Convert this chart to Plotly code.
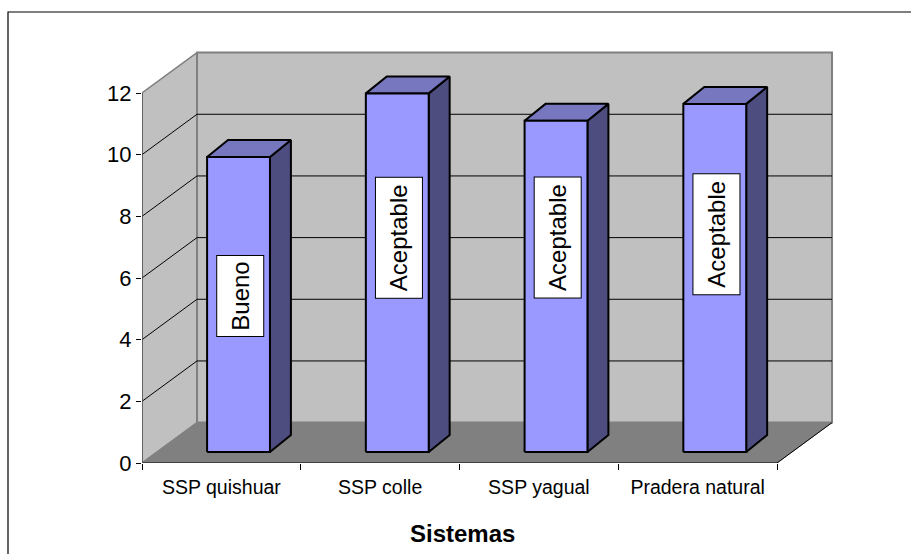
import plotly.graph_objects as go

# Data
categories = ["SSP quishuar", "SSP colle", "SSP yagual", "Pradera natural"]
values = [9.57, 11.63, 10.74, 11.29]
ratings = ["Bueno", "Aceptable", "Aceptable", "Aceptable"]
y_ticks = [0, 2, 4, 6, 8, 10, 12]

# 3-D look (in axis units)
DX, DY = 0.3465, 1.31          # wall depth offset
BAR_X0, BAR_X1 = 0.41, 0.806   # bar front face within each category slot
BAR_BASE = 0.357               # bar base height at its depth
BDX, BDY = 0.132, 0.551        # bar depth offset
LABEL_Y = [5.42, 7.30, 7.30, 7.43]  # rating box anchor heights
BOX_LEN = {"Bueno": 76, "Aceptable": 116}  # rating box length along the text, px

WALL = "#C0C0C0"
FLOOR = "#808080"
EDGE = "#808080"
FRONT = "#9999FF"
TOP = "#7777C0"
SIDE = "#4D4D80"
FONT = "Arial, Liberation Sans, sans-serif"

L, R, T, B = 142, 840, 45, 463
W, H = 911, 554
px_x = 158.75
px_y = 370 / 12
xmax = (R - L) / px_x
ymax = (B - T) / px_y
ntop = max(y_ticks)
ncat = len(categories)

fig = go.Figure()


def poly(xs, ys, fill, line_color, width=1.0):
    fig.add_trace(go.Scatter(
        x=xs + [xs[0]], y=ys + [ys[0]], mode="lines", fill="toself",
        fillcolor=fill, line=dict(color=line_color, width=width),
        hoverinfo="skip", showlegend=False))


def seg(xs, ys, color, width=1.0):
    fig.add_trace(go.Scatter(
        x=xs, y=ys, mode="lines", line=dict(color=color, width=width),
        hoverinfo="skip", showlegend=False))


# side wall and back wall
poly([0, 0, DX, DX], [0, ntop, ntop + DY, DY], WALL, EDGE, 1.5)
poly([DX, ncat + DX, ncat + DX, DX], [DY, DY, ntop + DY, ntop + DY], WALL, EDGE, 2)

# gridlines on both walls
for v in y_ticks[1:-1]:
    seg([0, DX, ncat + DX], [v, v + DY, v + DY], "#000000", 1)

# floor
poly([0, ncat, ncat + DX, DX], [0, 0, DY, DY], FLOOR, FLOOR, 1)
seg([0, ncat, ncat + DX], [0, 0, DY], "#000000", 1)

# front axis line
seg([0, 0], [0, ntop], "#555555", 1.5)

# columns
for i, v in enumerate(values):
    x0, x1 = i + BAR_X0, i + BAR_X1
    yb, yt = BAR_BASE, BAR_BASE + v
    poly([x1, x1 + BDX, x1 + BDX, x1], [yb, yb + BDY, yt + BDY, yt], SIDE, "#000000", 2)
    poly([x0, x1, x1 + BDX, x0 + BDX], [yt, yt, yt + BDY, yt + BDY], TOP, "#000000", 2)
    poly([x0, x1, x1, x0], [yb, yb, yt, yt], FRONT, "#000000", 2)

# rating boxes
for i, (txt, ly) in enumerate(zip(ratings, LABEL_Y)):
    fig.add_annotation(
        x=i + (BAR_X0 + BAR_X1) / 2 + 0.01, y=ly, text=txt, textangle=-90,
        showarrow=False, bgcolor="white", bordercolor="#000000",
        borderwidth=1, borderpad=2, width=BOX_LEN[txt], height=42,
        align="center", valign="middle",
        font=dict(family=FONT, size=24, color="#000000"))

# axis title
fig.add_annotation(
    x=(462 - L) / (R - L), y=(B - 533) / (B - T), xref="paper", yref="paper",
    xanchor="center", yanchor="middle",
    text="<b>Sistemas</b>", showarrow=False,
    font=dict(family=FONT, size=24, color="#000000"))

# chart-area frame
fig.add_shape(type="rect", xref="paper", yref="paper",
              x0=(8 - L) / (R - L), x1=(930 - L) / (R - L),
              y0=(B - 570) / (B - T), y1=(B - 12) / (B - T),
              line=dict(color="#000000", width=1.2), fillcolor="rgba(0,0,0,0)",
              layer="below")

fig.update_layout(
    width=W, height=H,
    margin=dict(l=L, r=W - R, t=T, b=H - B, pad=0),
    paper_bgcolor="white", plot_bgcolor="rgba(0,0,0,0)",
    showlegend=False,
    xaxis=dict(range=[0, xmax], tickvals=[i + 0.5 for i in range(ncat)],
               ticktext=categories, ticks="outside", ticklen=7,
               tickcolor="rgba(0,0,0,0)", showgrid=False, zeroline=False,
               showline=False, fixedrange=True,
               tickfont=dict(family=FONT, size=19.5, color="#000000"),
               minor=dict(tickvals=list(range(ncat + 1)), ticks="outside",
                          ticklen=6, tickcolor="#000000", showgrid=False)),
    yaxis=dict(range=[0, ymax], tickvals=y_ticks, ticks="outside", ticklen=5,
               tickcolor="#000000", showgrid=False, zeroline=False,
               showline=False, fixedrange=True,
               tickfont=dict(family=FONT, size=22, color="#000000")),
)

fig.write_html("out.html")
